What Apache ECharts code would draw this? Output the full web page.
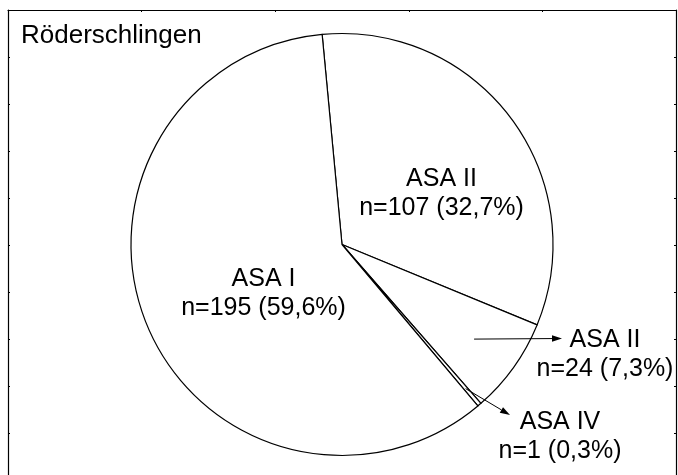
<!DOCTYPE html>
<html>
<head>
<meta charset="utf-8">
<title>Röderschlingen</title>
<script src="https://cdn.jsdelivr.net/npm/echarts@6/dist/echarts.min.js"></script>
<style>
  html, body { margin: 0; padding: 0; background: #fff; }
  #chart { width: 678px; height: 475px; }
</style>
</head>
<body>
<div id="chart"></div>
<script>
// ASA classification counts, Röderschlingen
const chartTitle = 'Röderschlingen';
const categories = ['ASA II', 'ASA II', 'ASA IV', 'ASA I'];
const counts = [107, 24, 1, 195];

// Layout (pixels)
const FONT = "'Liberation Sans', Arial, sans-serif";
const FONT_SIZE = 25;
const PIE_CENTER = [342, 244.5];
const PIE_RADIUS = 211;
const START_ANGLE = 95.4;
// label block centers, by data index
const labelPos = [[441.5, 194], [605, 355], [560, 437], [263.5, 293.5]];
// arrows from inside a slice out to its label: [dataIndex, radius fraction, tip x, tip y]
const arrows = [[1, 0.77, 562, 338.5], [2, 0.9, 510, 415]];

const total = counts.reduce((a, b) => a + b, 0);
const pct = v => (v / total * 100).toFixed(1).replace('.', ',');

const chart = echarts.init(document.getElementById('chart'), null, { renderer: 'canvas' });

// point on the pie at a given slice's mid angle
function slicePoint(idx, frac) {
  let acc = 0;
  for (let i = 0; i < idx; i++) acc += counts[i];
  const mid = (acc + counts[idx] / 2) / total * 360;   // degrees clockwise from start
  const ang = (START_ANGLE - mid) * Math.PI / 180;
  return [PIE_CENTER[0] + Math.cos(ang) * PIE_RADIUS * frac,
          PIE_CENTER[1] - Math.sin(ang) * PIE_RADIUS * frac];
}

function arrowGraphics() {
  const out = [];
  arrows.forEach(([idx, frac, tx, ty]) => {
    const [sx, sy] = slicePoint(idx, frac);
    const a = Math.atan2(ty - sy, tx - sx);
    const L = 10, W = 3.2;
    const bx = tx - Math.cos(a) * L, by = ty - Math.sin(a) * L;
    out.push({
      type: 'line', silent: true, z: 50,
      shape: { x1: sx, y1: sy, x2: bx, y2: by },
      style: { stroke: '#000', lineWidth: 1 }
    });
    out.push({
      type: 'polygon', silent: true, z: 50,
      shape: { points: [[tx, ty],
        [bx - Math.sin(a) * W, by + Math.cos(a) * W],
        [bx + Math.sin(a) * W, by - Math.cos(a) * W]] },
      style: { fill: '#000' }
    });
  });
  return out;
}

function frameAxis(extra) {
  return Object.assign({
    type: 'value',
    show: true,
    axisLine: { show: true, onZero: false, lineStyle: { color: '#000', width: 1.2 } },
    axisTick: { show: true, inside: true, length: 2, lineStyle: { color: '#000' } },
    axisLabel: { show: false },
    splitLine: { show: false }
  }, extra);
}

// frame scale: 47 px per tick step over the 465 px high plot box
const Y_MAX = 465 / 47;

chart.setOption({
  animation: false,
  backgroundColor: '#fff',
  title: {
    text: chartTitle,
    left: 16, top: 18,
    textStyle: { fontFamily: FONT, fontSize: 26, fontWeight: 'normal', color: '#000' }
  },
  grid: { left: 8, top: 10, right: 2, bottom: 0 },
  xAxis: [
    frameAxis({ position: 'top', min: 0, max: 5, interval: 1 })
  ],
  yAxis: [
    frameAxis({ position: 'left', inverse: true, min: 0, max: Y_MAX, interval: 1 }),
    frameAxis({ position: 'right', inverse: true, min: 0, max: Y_MAX, interval: 1 })
  ],
  series: [{
    type: 'pie',
    center: PIE_CENTER,
    radius: PIE_RADIUS,
    startAngle: START_ANGLE,
    clockwise: true,
    minAngle: 0,
    avoidLabelOverlap: false,
    silent: true,
    emphasis: { disabled: true },
    itemStyle: { color: '#fff', borderColor: '#000', borderWidth: 1.2 },
    label: {
      show: true,
      position: 'inside',
      color: '#000',
      fontFamily: FONT,
      fontSize: FONT_SIZE,
      lineHeight: 29,
      align: 'center',
      formatter: p => p.name + '\nn=' + p.value + ' (' + pct(p.value) + '%)'
    },
    labelLine: { show: false },
    labelLayout: p => ({
      x: labelPos[p.dataIndex][0],
      y: labelPos[p.dataIndex][1],
      align: 'center',
      verticalAlign: 'middle'
    }),
    data: categories.map((c, i) => ({ name: c, value: counts[i] }))
  }],
  graphic: arrowGraphics()
});
</script>
</body>
</html>
